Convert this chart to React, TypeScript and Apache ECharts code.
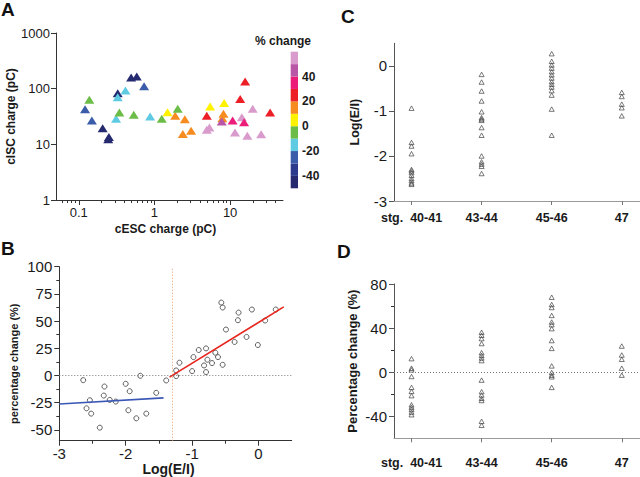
import React, { useEffect, useRef } from "react";
import * as echarts from "echarts";

// ---------- Panel A : cESC vs cISC charge, coloured by % change ----------
const aESC = [0.121, 0.138, 0.149, 0.207, 0.25, 0.245, 0.327, 0.327, 0.311, 0.344, 0.414, 0.492, 0.584, 0.73, 0.533, 0.877, 1.25, 1.49, 1.88, 2.03, 2.52, 2.37, 3.05, 4.92, 5.44, 4.92, 5.33, 8.33, 8.17, 7.9, 7.76, 13.6, 15.8, 10.8, 14.3, 15.3, 19.9, 11.6, 16.9, 25.7, 33.8];
const aISC = [42.8, 63, 26.8, 19.5, 13.5, 12.4, 83, 70, 28.7, 37.3, 93, 159, 166, 110, 33.9, 31.6, 28.7, 37.8, 32.5, 43.4, 28.3, 15.4, 17.5, 32.5, 47.9, 18.2, 20, 55, 35.3, 29.5, 25.7, 65, 134, 26.8, 30.7, 25, 43.4, 16.3, 14.2, 15.2, 37.3];
const aPct = [-26, -6, -24, -42, -44, -47, -45, -15, -13, -4, -17, -43, -48, -27, -3, -16, -8, 4, 12, -2, 17, 14, 11, 24, 6, 57, 52, 8, 16, 13, 46, 22, 27, 36, 58, 33, 54, 55, 53, 56, 25];
const aXTicks = [0.1, 1, 10];
const aXMinor = [0.06, 0.07, 0.08, 0.09, 0.2, 0.3, 0.4, 0.5, 0.6, 0.7, 0.8, 0.9, 2, 3, 4, 5, 6, 7, 8, 9, 20, 30, 40];
const aYTicks = [1, 10, 100, 1000];

// colour scale (% change)
const pctEdges = [-50, -40, -30, -20, -10, 0, 10, 20, 30, 40, 50, 60];
const pctColors = ["#25296f", "#2b3a8c", "#3b5ca9", "#5ecbe3", "#6cbd47", "#fff200", "#f68b1f", "#ec1f27", "#ec1c79", "#b957a6", "#d99bcc"];
const pctTickLabels = [-40, -20, 0, 20, 40];

// ---------- Panel B : % change vs Log(E/I) ----------
const bLogEI = [-2.64, -2.59, -2.54, -2.52, -2.39, -2.32, -2.33, -2.24, -2.15, -2.0, -1.94, -1.96, -1.84, -1.78, -1.69, -1.54, -1.39, -1.24, -1.24, -1.19, -1.0, -0.98, -0.9, -0.82, -0.79, -0.79, -0.77, -0.7, -0.65, -0.61, -0.54, -0.56, -0.54, -0.49, -0.36, -0.31, -0.3, -0.18, -0.1, -0.01, 0.1, 0.26];
const bPct = [-4.3, -30.2, -22.8, -35.1, -48, -10.2, -18.5, -22.5, -24, -7.7, -14.5, -32, -39.4, -0.3, -35.1, -16, -4.6, 4.6, -0.6, 11.7, 4, 16.9, 23.4, 9.2, 3.1, 24.9, 14.5, 11.4, 20.9, 16.9, 9.8, 67, 62.5, 42.2, 30.8, 50.8, 57.8, 35.4, 60.6, 28, 50.5, 60.6];
const bFitLowX = [-3, -1.43];
const bFitLowY = [-26.2, -20.6];
const bFitHighX = [-1.34, 0.38];
const bFitHighY = [-1.5, 63];
const bThreshold = -1.3;
const bXTicks = [-3, -2, -1, 0];
const bXMinor = [-2.5, -1.5, -0.5];
const bYTicks = [-50, -25, 0, 25, 50, 75, 100];
const bYMinor = [-37.5, -12.5, 12.5, 37.5, 62.5, 87.5];

// ---------- Panels C & D : per developmental stage ----------
const stages = ["40-41", "43-44", "45-46", "47"];
const cLog4041 = [-0.94, -1.7, -1.78, -1.95, -2.3, -2.33, -2.37, -2.43, -2.5, -2.55, -2.6, -2.63];
const cLog4344 = [-0.19, -0.36, -0.56, -0.78, -1.02, -1.15, -1.18, -1.21, -1.37, -1.54, -2.0, -2.13, -2.18, -2.23, -2.39];
const cLog4546 = [0.27, 0.1, 0.02, -0.05, -0.13, -0.2, -0.27, -0.35, -0.41, -0.47, -0.55, -0.65, -0.96, -1.54];
const cLog47 = [-0.59, -0.68, -0.85, -0.93, -1.11];
const dPct4041 = [12.3, 3.6, 2.1, -3.9, -13.8, -17.4, -21.3, -29.6, -31.7, -33.8, -36.2, -38.6];
const dPct4344 = [36.2, 33.5, 30.5, 26, 17.7, 15.3, 12.9, 10.5, -7.2, -17.7, -20.7, -23.7, -25.7, -44.6, -48.2];
const dPct4546 = [68, 61.4, 58.7, 51.5, 45.5, 43.1, 39.5, 28.7, 21.6, 5.7, -0.3, -2.7, -4.2, -13.8];
const dPct47 = [23.7, 15.6, 11.7, 3.6, -2.7];
const cYTicks = [-3, -2, -1, 0];
const dYTicks = [-40, 0, 40, 80];
const dYMinor = [-20, 20, 60];

const FONT = "'Liberation Sans', Arial, Helvetica, sans-serif";
const TXT = "#1a1a1a";

function colorFor(v: number) {
  for (let i = 0; i < pctColors.length; i++) {
    if (v < pctEdges[i + 1]) return pctColors[i];
  }
  return pctColors[pctColors.length - 1];
}

function fmtLog(v: number) {
  const p = Math.pow(10, v);
  const r = Math.round(p * 1000) / 1000;
  return String(r);
}

function stageScatter(groups: number[][]) {
  const out: number[][] = [];
  groups.forEach((g, i) => g.forEach((v) => out.push([i, v])));
  return out;
}

export default function App() {
  const ref = useRef<HTMLDivElement>(null);

  useEffect(() => {
    if (!ref.current) return;
    const chart = echarts.init(ref.current, undefined, { renderer: "svg" });

    const lineDark = { show: true, onZero: false, lineStyle: { color: "#333", width: 1 } };
    const tickLbl = (size: number) => ({ color: TXT, fontSize: size, fontFamily: FONT });
    const nameStyle = (size: number) => ({ color: TXT, fontSize: size, fontWeight: "bold" as const, fontFamily: FONT });

    const minorAxis = (gridIndex: number, min: number, max: number, vals: number[], pos: string) => ({
      type: "value",
      gridIndex,
      position: pos,
      min,
      max,
      axisLine: { show: false, onZero: false },
      axisLabel: { show: false },
      splitLine: { show: false },
      axisTick: { show: true, length: 3, customValues: vals, lineStyle: { color: "#333" } },
    });

    const stageAxis = (gridIndex: number, margin: number) => ({
      type: "value",
      gridIndex,
      position: "bottom",
      min: -0.25,
      max: 3.26,
      splitLine: { show: false },
      axisLine: { show: true, onZero: false, lineStyle: { color: "#9a9a9a" } },
      axisTick: { show: true, length: 4, customValues: [0, 1, 2, 3], lineStyle: { color: "#777" } },
      axisLabel: {
        customValues: [0, 1, 2, 3],
        margin,
        color: TXT,
        fontSize: 12.5,
        fontWeight: "bold",
        fontFamily: FONT,
        formatter: (v: number) => (Math.round(v) === 0 ? "stg.  " : "") + stages[Math.round(v)],
      },
    });

    const option: any = {
      animation: false,
      textStyle: { fontFamily: FONT },
      grid: [
        { left: 56, top: 33, width: 227, height: 167 },
        { left: 290.7, top: 51.7, width: 7.3, height: 136.6 },
        { left: 59.3, top: 266.7, width: 232.4, height: 174 },
        { left: 394, top: 43.3, width: 246, height: 157.7 },
        { left: 394, top: 284, width: 246, height: 154.3 },
      ],
      xAxis: [
        {
          type: "value",
          gridIndex: 0,
          position: "bottom",
          min: Math.log10(0.05),
          max: Math.log10(50),
          splitLine: { show: false },
          axisLine: lineDark,
          axisTick: { show: true, length: 5, customValues: aXTicks.map(Math.log10), lineStyle: { color: "#333" } },
          axisLabel: { ...tickLbl(13), margin: 6, customValues: aXTicks.map(Math.log10), formatter: fmtLog },
          name: "cESC charge (pC)",
          nameLocation: "middle",
          nameGap: 23,
          nameTextStyle: { ...nameStyle(12), padding: [0, 8, 0, 0] },
        },
        minorAxis(0, Math.log10(0.05), Math.log10(50), aXMinor.map(Math.log10), "bottom"),
        { type: "value", gridIndex: 1, min: 0, max: 1, show: false },
        {
          type: "value",
          gridIndex: 2,
          position: "bottom",
          min: -3,
          max: 0.5,
          splitLine: { show: false },
          axisLine: lineDark,
          axisTick: { show: true, length: 5, customValues: bXTicks, lineStyle: { color: "#333" } },
          axisLabel: { ...tickLbl(15), margin: 5, customValues: bXTicks },
          name: "Log(E/I)",
          nameLocation: "middle",
          nameGap: 21,
          nameTextStyle: { ...nameStyle(14), padding: [0, 14, 0, 0] },
        },
        minorAxis(2, -3, 0.5, bXMinor, "bottom"),
        stageAxis(3, 10),
        stageAxis(4, 18),
      ],
      yAxis: [
        {
          type: "value",
          gridIndex: 0,
          position: "left",
          min: 0,
          max: 3,
          splitLine: { show: false },
          axisLine: lineDark,
          axisTick: { show: true, length: 5, customValues: aYTicks.map(Math.log10), lineStyle: { color: "#333" } },
          axisLabel: { ...tickLbl(13), margin: 6, customValues: aYTicks.map(Math.log10), formatter: fmtLog },
          name: "cISC charge (pC)",
          nameLocation: "middle",
          nameGap: 35,
          nameTextStyle: nameStyle(12),
        },
        {
          type: "value",
          gridIndex: 1,
          position: "right",
          min: -50,
          max: 60,
          interval: 10,
          splitLine: { show: false },
          axisLine: { show: false },
          axisTick: { show: false },
          axisLabel: {
            margin: 4,
            color: TXT,
            fontSize: 12,
            fontWeight: "bold",
            fontFamily: FONT,
            padding: [4, 0, 0, 0],
            formatter: (v: number) => (pctTickLabels.indexOf(Math.round(v)) >= 0 ? String(Math.round(v)) : ""),
          },
        },
        {
          type: "value",
          gridIndex: 2,
          position: "left",
          min: -60,
          max: 100,
          splitLine: { show: false },
          axisLine: lineDark,
          axisTick: { show: true, length: 5, customValues: bYTicks, lineStyle: { color: "#333" } },
          axisLabel: { ...tickLbl(15), margin: 7, customValues: bYTicks },
          name: "percentage change (%)",
          nameLocation: "middle",
          nameGap: 40,
          nameTextStyle: { ...nameStyle(11), padding: [0, 20, 0, 0] },
        },
        minorAxis(2, -60, 100, bYMinor, "left"),
        {
          type: "value",
          gridIndex: 3,
          position: "left",
          min: -3,
          max: 0.5,
          splitLine: { show: false },
          axisLine: { show: true, onZero: false, lineStyle: { color: "#555" } },
          axisTick: { show: true, length: 5, customValues: cYTicks, lineStyle: { color: "#555" } },
          axisLabel: { ...tickLbl(15), margin: 7, customValues: cYTicks },
          name: "Log(E/I)",
          nameLocation: "middle",
          nameGap: 33,
          nameTextStyle: nameStyle(12.5),
        },
        {
          type: "value",
          gridIndex: 4,
          position: "left",
          min: -60,
          max: 80,
          splitLine: { show: false },
          axisLine: { show: true, onZero: false, lineStyle: { color: "#555" } },
          axisTick: { show: true, length: 5, customValues: dYTicks, lineStyle: { color: "#555" } },
          axisLabel: { ...tickLbl(15), margin: 7, customValues: dYTicks },
          name: "Percentage change (%)",
          nameLocation: "middle",
          nameGap: 35,
          nameTextStyle: nameStyle(13),
        },
        minorAxis(4, -60, 80, dYMinor, "left"),
      ],
      series: [
        {
          type: "scatter",
          xAxisIndex: 0,
          yAxisIndex: 0,
          symbol: "triangle",
          symbolSize: [10, 8],
          data: aESC.map((x, i) => [Math.log10(x), Math.log10(aISC[i]), aPct[i]]),
          itemStyle: { color: (p: any) => colorFor(p.value[2]), opacity: 1 },
        },
        {
          type: "custom",
          xAxisIndex: 2,
          yAxisIndex: 1,
          encode: { x: 0, y: [1, 2] },
          data: pctColors.map((_, i) => [0, pctEdges[i], pctEdges[i + 1]]),
          renderItem: (params: any, api: any) => {
            const p0 = api.coord([0, api.value(1)]);
            const p1 = api.coord([1, api.value(2)]);
            return {
              type: "rect",
              shape: { x: p0[0], y: p1[1], width: p1[0] - p0[0], height: p0[1] - p1[1] },
              style: { fill: pctColors[params.dataIndex], stroke: null },
            };
          },
        },
        {
          type: "scatter",
          xAxisIndex: 3,
          yAxisIndex: 2,
          symbol: "circle",
          symbolSize: 5,
          data: bLogEI.map((x, i) => [x, bPct[i]]),
          itemStyle: { color: "rgba(255,255,255,0)", borderColor: "#3a3a3a", borderWidth: 1 },
          markLine: {
            silent: true,
            symbol: ["none", "none"],
            label: { show: false },
            data: [
              { yAxis: 0, lineStyle: { color: "#777", type: [1, 2], width: 1 } },
              { xAxis: bThreshold, lineStyle: { color: "#ee9a66", type: [1, 2], width: 1 } },
            ],
          },
        },
        {
          type: "line",
          xAxisIndex: 3,
          yAxisIndex: 2,
          showSymbol: false,
          data: bFitLowX.map((x, i) => [x, bFitLowY[i]]),
          lineStyle: { color: "#3b57b5", width: 1.6 },
        },
        {
          type: "line",
          xAxisIndex: 3,
          yAxisIndex: 2,
          showSymbol: false,
          data: bFitHighX.map((x, i) => [x, bFitHighY[i]]),
          lineStyle: { color: "#e8261e", width: 1.6 },
        },
        {
          type: "scatter",
          xAxisIndex: 5,
          yAxisIndex: 4,
          symbol: "triangle",
          symbolSize: [5, 4.5],
          data: stageScatter([cLog4041, cLog4344, cLog4546, cLog47]),
          itemStyle: { color: "rgba(255,255,255,0)", borderColor: "#444", borderWidth: 0.9 },
        },
        {
          type: "scatter",
          xAxisIndex: 6,
          yAxisIndex: 5,
          symbol: "triangle",
          symbolSize: [5, 4.5],
          data: stageScatter([dPct4041, dPct4344, dPct4546, dPct47]),
          itemStyle: { color: "rgba(255,255,255,0)", borderColor: "#444", borderWidth: 0.9 },
          markLine: {
            silent: true,
            symbol: ["none", "none"],
            label: { show: false },
            data: [{ yAxis: 0, lineStyle: { color: "#777", type: [1, 2], width: 1 } }],
          },
        },
      ],
      graphic: [
        { type: "text", left: 1, top: 0, style: { text: "A", fontSize: 19, fontWeight: "bold", fontFamily: FONT, fill: "#111" } },
        { type: "text", left: 1, top: 239, style: { text: "B", fontSize: 19, fontWeight: "bold", fontFamily: FONT, fill: "#111" } },
        { type: "text", left: 341, top: 7, style: { text: "C", fontSize: 19, fontWeight: "bold", fontFamily: FONT, fill: "#111" } },
        { type: "text", left: 337, top: 242, style: { text: "D", fontSize: 19, fontWeight: "bold", fontFamily: FONT, fill: "#111" } },
        {
          type: "text",
          x: 283,
          y: 41,
          style: { text: "% change", fontSize: 12, fontWeight: "bold", fontFamily: FONT, fill: TXT, align: "center", verticalAlign: "middle" },
        },
      ],
    };

    chart.setOption(option);
    return () => chart.dispose();
  }, []);

  return <div ref={ref} style={{ position: "absolute", left: 0, top: 0, width: 640, height: 477, background: "#fff" }} />;
}
